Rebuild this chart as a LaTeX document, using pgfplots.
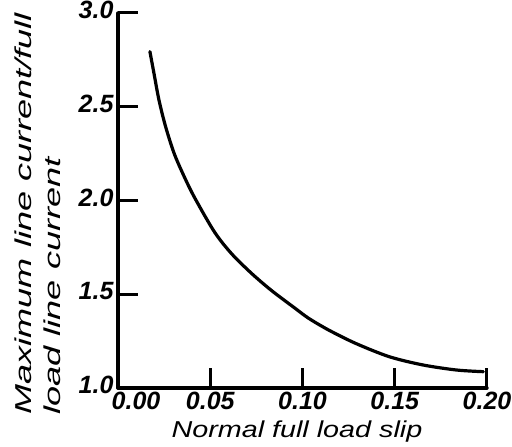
\documentclass[border=0pt]{standalone}
\usepackage{fontspec}
\setmainfont{Liberation Sans}
\newfontfamily\ylabfont[FakeStretch=1.57]{Liberation Sans}
\newfontfamily\xlabfont[FakeStretch=1.25]{Liberation Sans}
\usepackage{pgfplots}
\pgfplotsset{compat=1.18}

\begin{document}
\begin{tikzpicture}
\useasboundingbox (-118pt,-59pt) rectangle (394pt,388pt);
\begin{axis}[
    width=369pt, height=375pt, scale only axis,
    xmin=0, xmax=0.2, ymin=1, ymax=3,
    axis x line*=bottom, axis y line*=left,
    axis line style={line width=3.4pt, -, line cap=round},
    xtick={0,0.05,0.1,0.15,0.2},
    xticklabels={\hspace{36pt}0.00,0.05,0.10,0.15,0.20},
    ytick={1,1.5,2,2.5,3},
    yticklabels={1.0,1.5,2.0,2.5,3.0},
    tick align=inside,
    major tick length=20pt,
    tick style={line width=3pt, black},
    ticklabel style={font=\fontsize{25}{27}\selectfont\bfseries\itshape},
    xticklabel style={yshift=-1pt},
    yticklabel style={yshift=3pt, xshift=-1pt},
    xlabel={\xlabfont\itshape Normal full load slip},
    ylabel={\ylabfont\itshape Maximum line current/full\\\ylabfont\itshape load line current},
    label style={font=\fontsize{23}{29}\selectfont},
    xlabel style={at={(axis description cs:0.485,-0.117)}, anchor=center},
    ylabel style={at={(axis description cs:-0.218,-0.08)}, anchor=west, align=left},
    clip=false,
]
\addplot[black, line width=3.2pt, smooth, line cap=round] coordinates {
    (0.0173,2.794) (0.0195,2.678) (0.0222,2.536) (0.0258,2.394)
    (0.0304,2.252) (0.0359,2.127) (0.0417,2.012) (0.0523,1.832)
    (0.0614,1.718) (0.0723,1.612) (0.0832,1.520) (0.0960,1.425)
    (0.1033,1.372) (0.1142,1.309) (0.1288,1.238) (0.1470,1.167)
    (0.1652,1.123) (0.1834,1.096) (0.1980,1.087)
};
\end{axis}
\end{tikzpicture}
\end{document}
